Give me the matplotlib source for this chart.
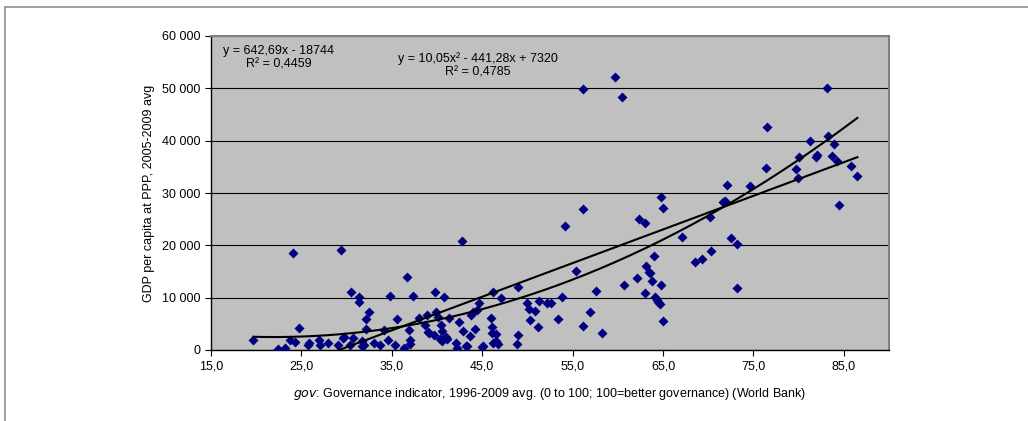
import numpy as np
import matplotlib
matplotlib.use("Agg")
import matplotlib.pyplot as plt
from matplotlib.ticker import FuncFormatter, FixedLocator, MultipleLocator

plt.rcParams['font.family'] = ['Liberation Sans', 'DejaVu Sans']

# governance indicator (x) and GDP per capita at PPP (y)
gov = [19.7, 22.4, 23.2, 23.7, 24.1, 24.3, 24.7, 25.7, 25.8, 27.0, 27.1, 27.9,
       29.05, 29.4, 29.6, 29.7, 30.45, 30.4, 30.7, 31.4, 31.4, 31.7, 31.7, 31.95,
       32.1, 32.1, 32.5, 33.0, 33.7, 34.1, 34.6, 34.8, 35.35, 35.6, 36.4, 36.65,
       36.9, 37.0, 37.0, 37.3, 38.0, 38.7, 38.9, 39.0, 39.1, 39.7, 39.8, 39.85,
       40.1, 40.3, 40.4, 40.5, 40.6, 40.8, 40.95, 41.1, 41.3, 42.05, 42.2, 42.45,
       42.8, 42.9, 43.2, 43.3, 43.6, 43.8, 43.98, 44.2, 44.4, 44.6, 45.0, 45.1,
       46.0, 46.15, 46.1, 46.1, 46.2, 46.5, 46.55, 46.8, 47.1, 48.9, 49.0, 49.0,
       50.0, 50.2, 50.3, 50.8, 51.2, 51.3, 52.2, 52.6, 53.4, 53.8, 54.2, 55.35,
       56.1, 56.1, 56.9, 57.55, 58.3, 60.65, 62.1, 62.3, 63.0, 63.0, 63.1, 63.45,
       63.6, 63.75, 64.0, 64.1, 64.3, 64.5, 64.7, 64.75, 64.8, 65.0, 65.0, 67.1,
       68.5, 69.3, 70.2, 70.35, 71.6, 71.9, 72.5, 73.2, 73.2, 84.5,
       56.1, 59.7, 60.5, 72.1, 74.6, 76.4, 76.5, 79.75, 79.9, 80.0, 81.3, 81.95,
       82.05, 83.1, 83.2, 83.65, 83.9, 84.2, 85.8, 86.5]
gdp = [1910, 130, 380, 1850, 18470, 1590, 4200, 950, 1400, 1910, 890, 1270,
       890, 19170, 2290, 2480, 11150, 890, 2290, 10060, 9100, 760, 1780, 890,
       5990, 3950, 7330, 1270, 890, 3820, 1910, 10380, 1020, 5990, 380, 14010,
       3760, 1910, 1150, 10380, 6050, 4710, 6630, 3500, 3250, 2800, 11080, 7330,
       6370, 2040, 4710, 3700, 1660, 10190, 2420, 2040, 6050, 1270, 380, 5290,
       20770, 3700, 760, 830, 2680, 6630, 7330, 3950, 7650, 9040, 640, 830,
       6180, 11150, 4460, 3310, 1270, 2990, 1660, 1150, 10000, 1080, 2860, 12100,
       8920, 7840, 5730, 7520, 4460, 9360, 9040, 9040, 5990, 10190, 23700, 15100,
       27000, 4650, 7260, 11340, 3250, 12420, 13820, 24970, 24330, 10830, 15990, 14970,
       14650, 13120, 18030, 10060, 9550, 9230, 8790, 29180, 12420, 27200, 5480, 21660,
       16880, 17390, 25360, 18920, 28280, 28470, 21340, 20260, 11790, 27650,
       49810, 52230, 48410, 31460, 31270, 34840, 42680, 34590, 32800, 36880, 40000, 36880,
       37260, 50070, 40950, 37130, 39310, 36180, 35220, 33250]

x_ticks = [15, 25, 35, 45, 55, 65, 75, 85]

# trendline coefficients as printed on the chart
lin_coef = [642.69, -18744]
quad_coef = [10.05, -441.28, 7320]
lin_label = "y = 642,69x - 18744\nR² = 0,4459"
quad_label = "y = 10,05x² - 441,28x + 7320\nR² = 0,4785"

fs = 9

fig = plt.figure(figsize=(10.28, 4.21), dpi=100)
ax = fig.add_axes([211/1028, 1-350/421, (889-211)/1028, (350-36)/421])

# outer chart frame (only left and top visible in the crop)
fig.add_artist(plt.Line2D([4.5/1028, 4.5/1028], [0, 1-6.5/421], color='#909090', lw=1.2))
fig.add_artist(plt.Line2D([4.5/1028, 1], [1-6.5/421, 1-6.5/421], color='#909090', lw=1.2))

ax.set_facecolor('#c0c0c0')
ax.set_xlim(15, 90)
ax.set_ylim(0, 60000)
ax.xaxis.set_major_locator(FixedLocator(x_ticks))
ax.yaxis.set_major_locator(MultipleLocator(10000))
ax.xaxis.set_major_formatter(FuncFormatter(lambda v, p: f"{v:.1f}".replace('.', ',')))
ax.yaxis.set_major_formatter(FuncFormatter(lambda v, p: f"{int(v):,}".replace(',', ' ')))
ax.tick_params(labelsize=fs, length=4, width=0.8, color='black', direction='out')
ax.grid(axis='y', color='black', lw=0.8)
ax.set_axisbelow(True)
for side in ['left', 'bottom']:
    ax.spines[side].set_color('black')
    ax.spines[side].set_linewidth(1.0)
for side in ['top', 'right']:
    ax.spines[side].set_color('#808080')
    ax.spines[side].set_linewidth(1.5)

ax.scatter(gov, gdp, marker='D', s=26, color='#000080', zorder=3, linewidths=0)

xs = np.linspace(min(gov), max(gov), 200)
ax.plot(xs, np.polyval(lin_coef, xs), color='black', lw=1.5, zorder=4)
ax.plot(xs, np.polyval(quad_coef, xs), color='black', lw=1.5, zorder=4)

ax.text(22.47, 55900, lin_label, ha='center', va='center', fontsize=fs, linespacing=1.15,
        multialignment='center')
ax.text(44.5, 54450, quad_label, ha='center', va='center', fontsize=fs, linespacing=1.2,
        multialignment='center')

ax.set_ylabel("GDP per capita at PPP, 2005-2009 avg", fontsize=fs, labelpad=5)
ax.set_xlabel(r"$\it{gov}$: Governance indicator, 1996-2009 avg. (0 to 100; 100=better governance) (World Bank)",
              fontsize=fs, labelpad=10)

fig.savefig("out.png", dpi=100)
